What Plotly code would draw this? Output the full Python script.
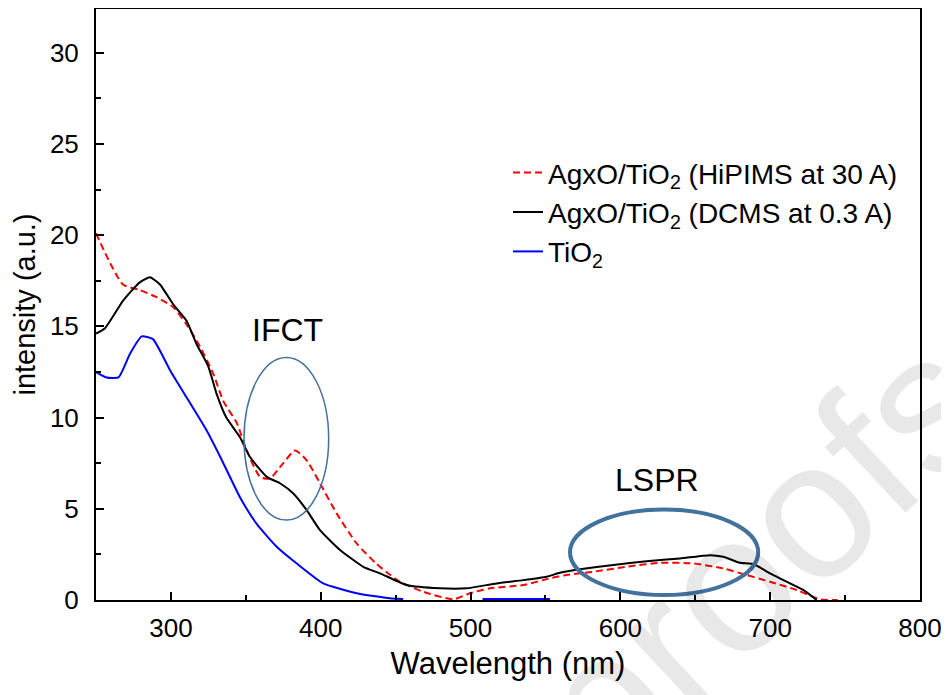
import plotly.graph_objects as go

# HiPIMS (red dashed)
red_x = [250, 268, 279, 290.5, 301.6, 310.5, 319.4, 328.3, 335, 344, 350.6, 359.5, 366, 375, 382.8, 390.6,
         399.5, 410.6, 424, 437, 446, 452.9, 468.5, 488.5, 499.6, 513, 535.2, 553, 564.2, 582, 604.2,
         626.4, 648.7, 668.7, 684.3, 699.9, 717.7, 733.3, 745]
red_y = [20.1, 17.3, 17.0, 16.6, 16.05, 15.1, 13.9, 12.4, 10.9, 9.7, 8.2, 6.75, 6.66, 7.5, 8.2, 7.66,
         6.4, 4.75, 3.1, 2.0, 1.4, 1.0, 0.45, 0.04, 0.37, 0.64, 0.82, 1.19, 1.37, 1.55, 1.82,
         2.04, 2.0, 1.73, 1.37, 1.0, 0.55, 0.04, 0.0]

# DCMS (black)
blk_x = [250, 256, 268, 279, 286, 292.7, 301.6, 310.5, 317, 325, 330.5, 337, 346, 352.8, 364, 372.8,
         381.7, 390.6, 399.5, 412.9, 428.4, 439.6, 457.4, 479.6, 497.4, 517.4, 535.2, 550.8, 559.7,
         573, 595.3, 617.5, 639.8, 659.8, 668.7, 679.8, 688.7, 699.9, 713.2, 722.1, 731]
blk_y = [14.6, 14.9, 16.4, 17.4, 17.7, 17.3, 16.2, 15.3, 14.05, 12.8, 11.3, 10.0, 8.94, 7.84, 6.75, 6.4,
         5.84, 4.93, 3.83, 2.74, 1.82, 1.46, 0.82, 0.64, 0.64, 0.91, 1.09, 1.28, 1.49,
         1.68, 1.92, 2.13, 2.28, 2.46, 2.37, 2.04, 1.97, 1.46, 0.91, 0.55, 0.0]

# TiO2 (blue)
blu_x = [250, 257, 265, 272.7, 280.5, 288, 299.4, 310.5, 323.8, 335, 346, 357, 370.6, 384, 401.7,
         424, 446, 455, None, 508, 553]
blu_y = [12.5, 12.2, 12.2, 13.5, 14.45, 14.3, 12.6, 11.1, 9.3, 7.5, 5.65, 4.2, 2.92, 2.0, 0.91,
         0.37, 0.09, 0.05, None, 0.05, 0.05]

x_ticks = [300, 400, 500, 600, 700, 800]
y_ticks = [0, 5, 10, 15, 20, 25, 30]

FONT = "Liberation Sans"

fig = go.Figure()
# watermark (light grey)
fig.add_annotation(x=0.805, y=0.075, xref="paper", yref="paper", text="proofs", showarrow=False,
                   xanchor="center", yanchor="middle",
                   textangle=-43, font=dict(size=195, color="rgba(0,0,0,0.09)", family=FONT))

fig.add_trace(go.Scatter(x=red_x, y=red_y, mode="lines", name="AgxO/TiO<sub>2</sub> (HiPIMS at 30 A)",
                         line=dict(color="#ff0000", width=2, dash="7px,4px", shape="spline", smoothing=0.6)))
fig.add_trace(go.Scatter(x=blk_x, y=blk_y, mode="lines", name="AgxO/TiO<sub>2</sub> (DCMS at 0.3 A)",
                         line=dict(color="#000000", width=2, shape="spline", smoothing=0.5)))
fig.add_trace(go.Scatter(x=blu_x, y=blu_y, mode="lines", name="TiO<sub>2</sub>",
                         line=dict(color="#0000ff", width=2, shape="spline", smoothing=0.5), connectgaps=False))

ell = "#41719C"
fig.add_shape(type="circle", xref="x", yref="y", x0=348.8, x1=405.3, y0=4.38, y1=13.3,
              line=dict(color=ell, width=1.5))
fig.add_shape(type="circle", xref="x", yref="y", x0=566.4, x1=692, y0=0.27, y1=4.96,
              line=dict(color=ell, width=4))

fig.add_annotation(x=378, y=14.8, text="IFCT", showarrow=False,
                   font=dict(size=32, color="black", family=FONT))
fig.add_annotation(x=624.5, y=6.6, text="LSPR", showarrow=False,
                   font=dict(size=32, color="black", family=FONT))

axis_common = dict(showline=True, linecolor="black", linewidth=2, mirror=True, ticks="inside",
                   ticklen=8, tickwidth=1.5, tickcolor="black", showgrid=False, zeroline=False,
                   automargin=False,
                   tickfont=dict(size=26, color="black", family=FONT))
fig.update_xaxes(range=[250, 800], tickvals=x_ticks, ticklabelstandoff=4,
                 minor=dict(tickvals=[350, 450, 550, 650, 750], ticks="inside", ticklen=5,
                            tickwidth=1.5, tickcolor="black"),
                 title=dict(text="Wavelength (nm)", font=dict(size=31, color="black", family=FONT),
                            standoff=10),
                 **axis_common)
fig.update_yaxes(range=[0, 32.4], tickvals=y_ticks, ticklabelstandoff=10,
                 minor=dict(tickvals=[2.5, 7.5, 12.5, 17.5, 22.5, 27.5], ticks="inside", ticklen=5,
                            tickwidth=1.5, tickcolor="black"),
                 title=dict(text="intensity (a.u.)", font=dict(size=29, color="black", family=FONT),
                            standoff=6),
                 **axis_common)

fig.update_layout(width=941, height=687, plot_bgcolor="white", paper_bgcolor="white",
                  margin=dict(l=88, r=29, t=1, b=95),
                  legend=dict(x=0.5, y=0.765, xanchor="left", yanchor="top", bgcolor="rgba(0,0,0,0)",
                              font=dict(size=28, color="black", family=FONT)),
                  font=dict(family=FONT))
fig.write_html("out.html")
